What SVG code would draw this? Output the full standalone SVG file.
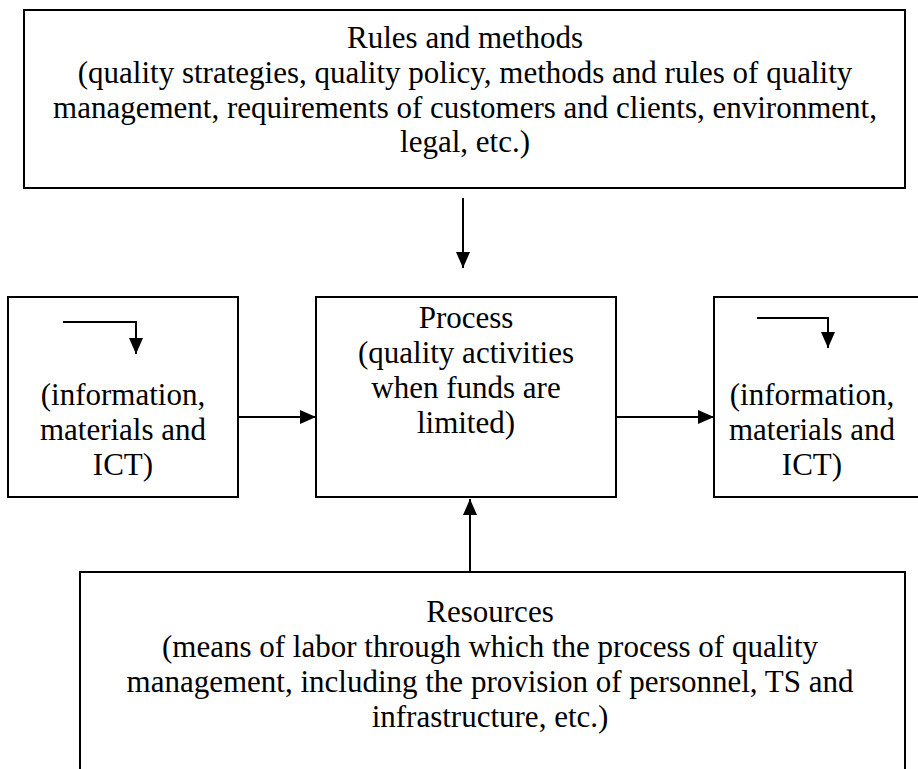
<svg xmlns="http://www.w3.org/2000/svg" width="918" height="769" viewBox="0 0 918 769">
  <style>
    .box { fill: #ffffff; stroke: #000000; stroke-width: 2; }
    .lbl { font-family: "Liberation Serif", "Times New Roman", serif; font-size: 31px; fill: #000000; text-anchor: middle; }
    .wire { fill: none; stroke: #000000; stroke-width: 2; }
  </style>
  <defs>
    <marker id="head" viewBox="0 0 16 14" refX="16" refY="7" markerWidth="16" markerHeight="14" markerUnits="userSpaceOnUse" orient="auto">
      <path d="M0,0 L16,7 L0,14 Z" fill="#000000"/>
    </marker>
  </defs>
  <rect width="918" height="769" fill="#ffffff"/>

  <g id="rules">
    <rect class="box" x="24" y="10" width="881" height="178"/>
    <text class="lbl" x="465" y="48">Rules and methods</text>
    <text class="lbl" x="465" y="83">(quality strategies, quality policy, methods and rules of quality</text>
    <text class="lbl" x="465" y="118">management, requirements of customers and clients, environment,</text>
    <text class="lbl" x="465" y="152">legal, etc.)</text>
  </g>

  <g id="input">
    <rect class="box" x="8" y="297" width="230" height="200"/>
    <polyline class="wire" points="63,322 136,322 136,354" marker-end="url(#head)"/>
    <text class="lbl" x="123" y="405">(information,</text>
    <text class="lbl" x="123" y="440">materials and</text>
    <text class="lbl" x="123" y="475">ICT)</text>
  </g>

  <g id="process">
    <rect class="box" x="316" y="297" width="300" height="200"/>
    <text class="lbl" x="466" y="328">Process</text>
    <text class="lbl" x="466" y="363">(quality activities</text>
    <text class="lbl" x="466" y="398">when funds are</text>
    <text class="lbl" x="466" y="433">limited)</text>
  </g>

  <g id="output">
    <rect class="box" x="714" y="297" width="220" height="200"/>
    <polyline class="wire" points="757,318 828,318 828,348" marker-end="url(#head)"/>
    <text class="lbl" x="812" y="405">(information,</text>
    <text class="lbl" x="812" y="440">materials and</text>
    <text class="lbl" x="812" y="475">ICT)</text>
  </g>

  <g id="resources">
    <rect class="box" x="80" y="572" width="825" height="220"/>
    <text class="lbl" x="490" y="622">Resources</text>
    <text class="lbl" x="490" y="657">(means of labor through which the process of quality</text>
    <text class="lbl" x="490" y="692">management, including the provision of personnel, TS and</text>
    <text class="lbl" x="490" y="727">infrastructure, etc.)</text>
  </g>

  <g id="connectors">
    <line class="wire" x1="463" y1="198" x2="463" y2="268" marker-end="url(#head)"/>
    <line class="wire" x1="238" y1="417" x2="316" y2="417" marker-end="url(#head)"/>
    <line class="wire" x1="616" y1="417" x2="714" y2="417" marker-end="url(#head)"/>
    <line class="wire" x1="470" y1="572" x2="470" y2="499" marker-end="url(#head)"/>
  </g>
</svg>
